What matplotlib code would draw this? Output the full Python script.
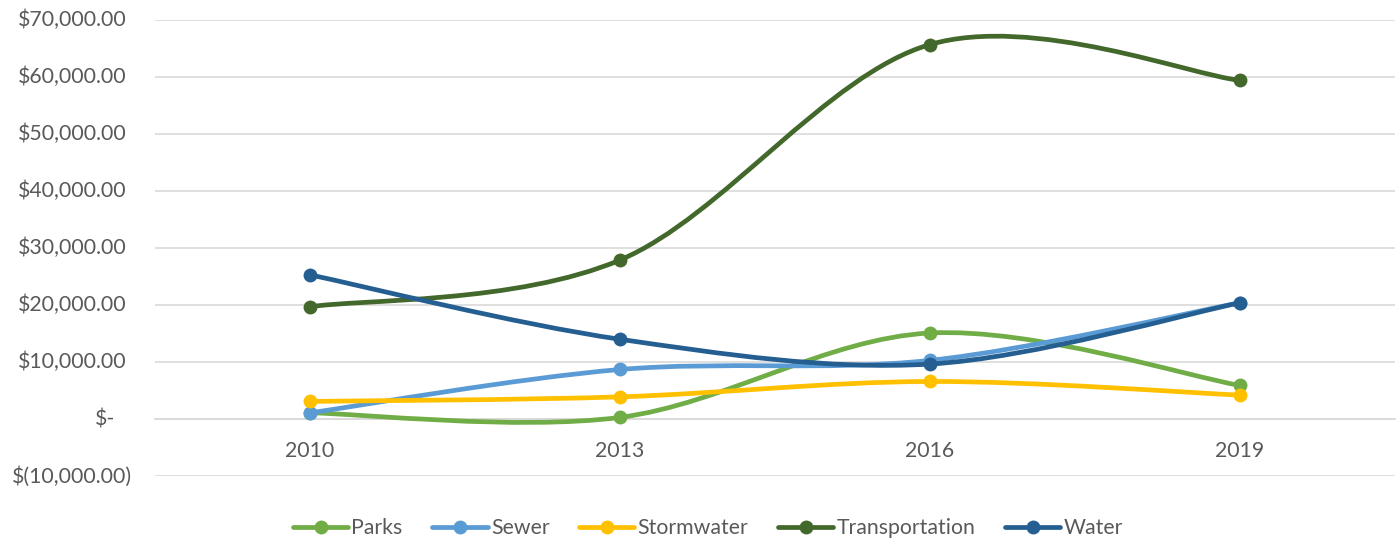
import matplotlib
matplotlib.use("Agg")
import matplotlib.pyplot as plt
from matplotlib.path import Path
from matplotlib.patches import PathPatch
from matplotlib.lines import Line2D
from matplotlib.transforms import ScaledTranslation

# ---- data ----
categories = ["2010", "2013", "2016", "2019"]
series_names = ["Parks", "Sewer", "Stormwater", "Transportation", "Water"]
parks = [1100, 300, 15100, 5900]
sewer = [1100, 8700, 10300, 20400]
stormwater = [3100, 3900, 6600, 4200]
transportation = [19700, 27900, 65700, 59400]
water = [25300, 14000, 9650, 20400]
series_values = [parks, sewer, stormwater, transportation, water]
colors = ["#70AD47", "#5B9BD5", "#FFC000", "#43682B", "#255E91"]

y_ticks = [-10000, 0, 10000, 20000, 30000, 40000, 50000, 60000, 70000]

TEXT = "#595959"
GRID = "#D9D9D9"
FONT = "Lato"
FS = 15.3

W, H = 1396, 544
fig = plt.figure(figsize=(W / 100, H / 100), dpi=100)
ax = fig.add_axes([155 / W, 1 - 476.1 / H, (1395 - 155) / W, (476.1 - 20) / H])

x = list(range(len(categories)))


def smooth_path(xs, ys):
    """Excel-like smoothed line as cubic Bezier path through the data points."""
    pts = list(zip(xs, ys))
    n = len(pts)
    verts = [pts[0]]
    codes = [Path.MOVETO]
    for i in range(n - 1):
        p0 = pts[i - 1] if i > 0 else pts[i]
        p1 = pts[i]
        p2 = pts[i + 1]
        p3 = pts[i + 2] if i + 2 < n else pts[i + 1]
        c1 = (p1[0] + (p2[0] - p0[0]) / 6, p1[1] + (p2[1] - p0[1]) / 6)
        c2 = (p2[0] - (p3[0] - p1[0]) / 6, p2[1] - (p3[1] - p1[1]) / 6)
        verts += [c1, c2, p2]
        codes += [Path.CURVE4] * 3
    return Path(verts, codes)


LW = 3.4
MS = 10
handles = []
for k, (name, vals, c) in enumerate(zip(series_names, series_values, colors)):
    z = 3 + k
    patch = PathPatch(smooth_path(x, vals), fill=False, edgecolor=c, lw=LW,
                      capstyle="round", joinstyle="round", zorder=z)
    ax.add_patch(patch)
    ax.plot(x, vals, linestyle="none", marker="o", markersize=MS,
            color=c, markeredgewidth=0, zorder=z + 0.5)
    handles.append(Line2D([], [], color=c, lw=LW, marker="o", markersize=MS,
                          markeredgewidth=0, solid_capstyle="round", label=name))

ax.set_xlim(-0.5, len(categories) - 0.5)
ax.set_ylim(y_ticks[0], y_ticks[-1])

# grid
ax.set_yticks(y_ticks)
ax.yaxis.grid(True, color=GRID, lw=1.2)
ax.set_axisbelow(True)
ax.tick_params(axis="y", length=0, labelleft=False)

for s in ["top", "right", "left"]:
    ax.spines[s].set_visible(False)
ax.spines["bottom"].set_position(("data", 0))
ax.spines["bottom"].set_color(GRID)
ax.spines["bottom"].set_linewidth(1.2)

ax.set_xticks(x)
ax.set_xticklabels(categories, fontsize=FS, color=TEXT, family=FONT)
ax.tick_params(axis="x", length=0, pad=16)


def acct(v):
    if v == 0:
        return "$-"
    if v < 0:
        return "$({:,.2f})".format(-v)
    return "${:,.2f}".format(v)


ytrans = ax.get_yaxis_transform()
for v in y_ticks:
    if v > 0:
        off = -28
    elif v == 0:
        off = -40
    else:
        off = -23
    t = ytrans + ScaledTranslation(off / 100, 0, fig.dpi_scale_trans)
    ax.text(0, v, acct(v), transform=t, ha="right", va="center",
            fontsize=FS, color=TEXT, family=FONT)

fig.legend(handles=handles, loc="center", bbox_to_anchor=(708 / W, 1 - 528 / H),
           ncol=5, frameon=False, handlelength=2.6, handletextpad=0.15,
           columnspacing=1.4, prop={"family": FONT, "size": FS},
           labelcolor=TEXT)

fig.savefig("out.png", dpi=100, facecolor="white")
